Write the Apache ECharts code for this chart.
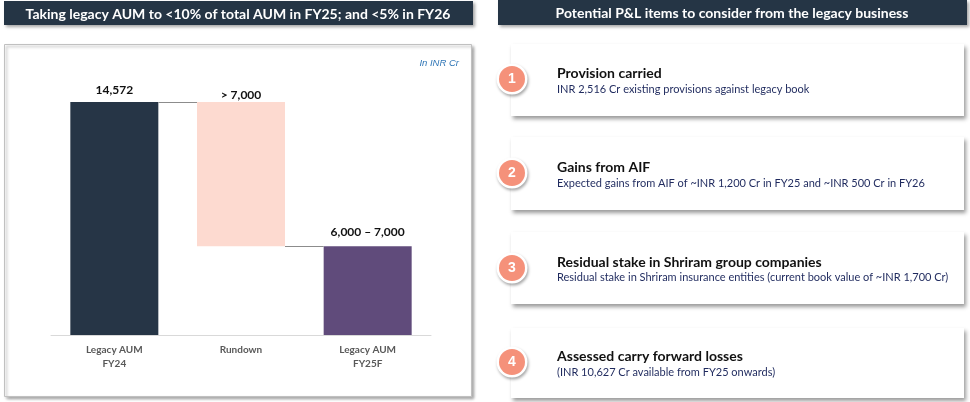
<!DOCTYPE html>
<html><head><meta charset="utf-8">
<script src="https://cdn.jsdelivr.net/npm/echarts@6.0.0/dist/echarts.min.js"></script>
<style>html,body{margin:0;padding:0;background:#fff}#c{width:970px;height:402px}</style>
</head><body><div id="c"></div>
<script>
// ---- data ----
const leftTitle = 'Taking legacy AUM to <10% of total AUM in FY25; and <5% in FY26';
const rightTitle = 'Potential P&L items to consider from the legacy business';
const unitNote = 'In INR Cr';
const categories = ['Legacy AUM\nFY24', 'Rundown', 'Legacy AUM\nFY25F'];
const barValues = [14572, 9020, 5552];
const barLabels = ['14,572', '> 7,000', '6,000 \u2013 7,000'];
const itemNumbers = ['1', '2', '3', '4'];
const itemTitles = ['Provision carried', 'Gains from AIF', 'Residual stake in Shriram group companies', 'Assessed carry forward losses'];
const itemTexts = [
  'INR 2,516 Cr existing provisions against legacy book',
  'Expected gains from AIF of ~INR 1,200 Cr in FY25 and ~INR 500 Cr in FY26',
  'Residual stake in Shriram insurance entities (current book value of ~INR 1,700 Cr)',
  '(INR 10,627 Cr available from FY25 onwards)'
];

// ---- styles ----
const barColors = ['#263546', '#FDDAD0', '#604B7B'];
const labelDist = [6, 1, 8];
const barWidth = 88;
const FONT = 'Lato, "Open Sans", sans-serif';

const baseValues = [0, barValues[0] - barValues[1], 0];

const chart = echarts.init(document.getElementById('c'), null, {renderer: 'canvas'});

const cardTops = [44, 137, 232, 328];
const cardHeights = [72, 73, 72, 70];
const circleY = [79, 173, 268, 362];
const titleY = [73, 167, 262, 356];
const textY = [89, 183, 277, 372];

const graphics = [
  // chart box
  {type: 'rect', z: -10, shape: {x: 4.5, y: 44.5, width: 467, height: 352},
   style: {fill: '#fff', stroke: '#c0c0c0', lineWidth: 1, shadowBlur: 3, shadowOffsetX: 2, shadowOffsetY: 2, shadowColor: 'rgba(0,0,0,0.35)'}},
  // left title bar
  {type: 'rect', shape: {x: 4, y: 1, width: 469, height: 24},
   style: {fill: '#253545', shadowBlur: 3, shadowOffsetX: 2, shadowOffsetY: 2, shadowColor: 'rgba(0,0,0,0.35)'}},
  {type: 'text', x: 238, y: 14, style: {text: leftTitle, fill: '#fff', font: 'bold 14px ' + FONT, align: 'center', verticalAlign: 'middle'}},
  // right title bar
  {type: 'rect', shape: {x: 498, y: 0, width: 469, height: 25},
   style: {fill: '#253545', shadowBlur: 3, shadowOffsetX: 2, shadowOffsetY: 2, shadowColor: 'rgba(0,0,0,0.35)'}},
  {type: 'text', x: 732, y: 13, style: {text: rightTitle, fill: '#fff', font: 'bold 14px ' + FONT, align: 'center', verticalAlign: 'middle'}},
  // unit note
  {type: 'text', x: 459, y: 63, style: {text: unitNote, fill: '#2E75B6', font: 'italic 9.5px "Liberation Sans", Arial, sans-serif', align: 'right', verticalAlign: 'middle'}}
];

itemTitles.forEach((t, i) => {
  graphics.push(
    {type: 'rect', shape: {x: 511, y: cardTops[i], width: 453, height: cardHeights[i]},
     style: {fill: '#fff', shadowBlur: 4, shadowOffsetX: 2, shadowOffsetY: 3, shadowColor: 'rgba(0,0,0,0.4)'}},
    {type: 'circle', shape: {cx: 512, cy: circleY[i], r: 15.5},
     style: {fill: '#fff', shadowBlur: 3, shadowOffsetX: 1, shadowOffsetY: 2, shadowColor: 'rgba(0,0,0,0.35)'}},
    {type: 'circle', shape: {cx: 512, cy: circleY[i], r: 13}, style: {fill: '#F5917A'}},
    {type: 'text', x: 512, y: circleY[i] + 0.5, style: {text: itemNumbers[i], fill: '#fff', font: 'bold 14px "Liberation Sans", Arial, sans-serif', align: 'center', verticalAlign: 'middle'}},
    {type: 'text', x: 557, y: titleY[i], style: {text: t, fill: '#111', font: 'bold 14px ' + FONT, align: 'left', verticalAlign: 'middle'}},
    {type: 'text', x: 557, y: textY[i], style: {text: itemTexts[i], fill: '#1F2A5E', font: '11px ' + FONT, align: 'left', verticalAlign: 'middle'}}
  );
});

chart.setOption({
  animation: false,
  grid: {left: 51, right: 539, top: 102, bottom: 67},
  xAxis: {
    type: 'category', data: categories,
    axisLine: {lineStyle: {color: '#d9d9d9', width: 1}},
    axisTick: {show: false},
    axisLabel: {color: '#595959', fontFamily: FONT, fontWeight: 'bold', fontSize: 10, lineHeight: 14, margin: 8}
  },
  yAxis: {type: 'value', min: 0, max: barValues[0], show: false, splitLine: {show: false}},
  series: [
    {type: 'bar', stack: 'w', barWidth: barWidth, data: baseValues, itemStyle: {color: 'transparent'}, silent: true, z: 2},
    {type: 'bar', stack: 'w', barWidth: barWidth, z: 3,
     data: barValues.map((v, i) => ({value: v, itemStyle: {color: barColors[i]}, label: {distance: labelDist[i]}})),
     label: {show: true, position: 'top', color: '#111', fontFamily: FONT, fontWeight: 'bold', fontSize: 12,
             formatter: p => barLabels[p.dataIndex]}},
    {type: 'custom', z: 4, encode: {x: 0, y: 1},
     data: [[0, barValues[0]], [1, baseValues[1]]],
     renderItem: (params, api) => {
       const i = api.value(0), v = api.value(1);
       const p1 = api.coord([i, v]), p2 = api.coord([i + 1, v]);
       const y = Math.round(p1[1]) + 0.5;
       return {type: 'line', shape: {x1: p1[0] + barWidth / 2, y1: y, x2: p2[0] - barWidth / 2, y2: y},
               style: {stroke: '#8c8c8c', lineWidth: 1}};
     }}
  ],
  graphic: graphics
});
</script></body></html>
